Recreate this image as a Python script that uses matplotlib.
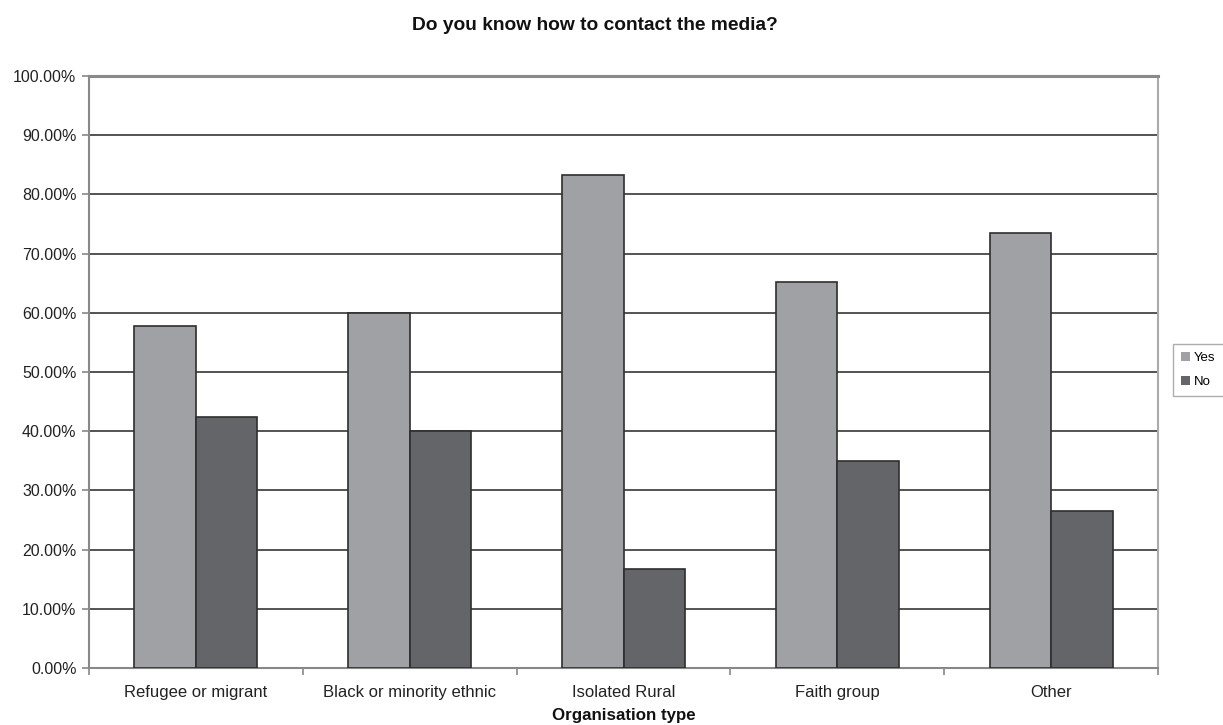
import numpy as np
import matplotlib
matplotlib.use('Agg')
import matplotlib.pyplot as plt
from matplotlib.patches import Patch
from matplotlib.ticker import FuncFormatter

# data
categories = ['Refugee or migrant', 'Black or minority ethnic', 'Isolated Rural', 'Faith group', 'Other']
yes_pct = [57.7, 60.0, 83.33, 65.22, 73.5]
no_pct = [42.4, 40.1, 16.67, 34.95, 26.6]
series_names = ['Yes', 'No']

plt.rcParams['font.family'] = ['Liberation Sans', 'DejaVu Sans']

fig = plt.figure(figsize=(12.23, 7.25), dpi=100)
ax = fig.add_axes([89 / 1223, 57 / 725, 1069 / 1223, 592 / 725])

x = np.arange(len(categories))
w = 0.288
c_yes = '#a0a1a5'
c_no = '#646569'
edge = '#2e2e2e'

ax.bar(x - w / 2, yes_pct, w, color=c_yes, edgecolor=edge, linewidth=1.2, zorder=3)
ax.bar(x + w / 2, no_pct, w, color=c_no, edgecolor=edge, linewidth=1.2, zorder=3)

ax.set_xlim(-0.5, len(categories) - 0.5)
ax.set_ylim(0, 100)
ax.set_yticks(np.arange(0, 101, 10))
ax.yaxis.set_major_formatter(FuncFormatter(lambda v, p: f'{v:.2f}%'))
ax.yaxis.grid(True, color='#454545', linewidth=1.3, zorder=0)
ax.set_axisbelow(True)

# x ticks at group boundaries, labels at centres
ax.set_xticks(np.arange(-0.5, len(categories), 1.0))
ax.set_xticklabels([])
ax.set_xticks(x, minor=True)
ax.set_xticklabels(categories, minor=True, fontsize=12, color='#222222')
ax.tick_params(axis='x', which='minor', length=0, pad=12)
ax.tick_params(axis='x', which='major', length=5, color='#888888', width=1.2)
ax.tick_params(axis='y', length=5, color='#888888', width=1.2, labelsize=11.5,
               labelcolor='#222222', pad=4)

for side in ['left', 'bottom']:
    ax.spines[side].set_color('#888888')
    ax.spines[side].set_linewidth(1.5)
ax.spines['top'].set_color('#8a8a8a')
ax.spines['top'].set_linewidth(2.2)
ax.spines['right'].set_color('#aaaaaa')
ax.spines['right'].set_linewidth(1.5)

ax.set_xlabel('Organisation type', fontsize=12.2, fontweight='bold', color='#111111', labelpad=6)

fig.text(595 / 1223, 1 - 26 / 725, 'Do you know how to contact the media?',
         ha='center', va='center', fontsize=13.8, fontweight='bold', color='#111111')

handles = [Patch(facecolor=c_yes, edgecolor='none'), Patch(facecolor=c_no, edgecolor='none')]
leg = fig.legend(handles, series_names, loc='upper left', bbox_to_anchor=(1173 / 1223, 1 - 344 / 725),
                 fontsize=9.5, frameon=True, fancybox=False, handlelength=0.7, handleheight=0.7,
                 handletextpad=0.3, labelspacing=0.9, borderpad=0.6, borderaxespad=0)
leg.get_frame().set_edgecolor('#999999')
leg.get_frame().set_linewidth(1.0)

fig.savefig('out.png', dpi=100)
